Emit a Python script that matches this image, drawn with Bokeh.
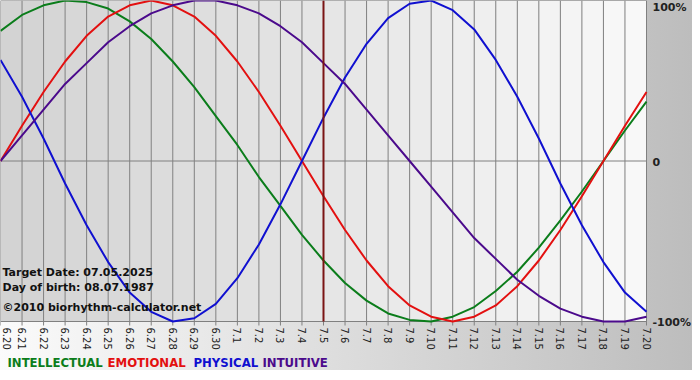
import math
from bokeh.plotting import figure
from bokeh.models import Range1d, Label
from bokeh.core.properties import value
from bokeh.embed import file_html
from bokeh.resources import INLINE

# ---- data ----
days = ["6.20", "6.21", "6.22", "6.23", "6.24", "6.25", "6.26", "6.27", "6.28", "6.29", "6.30",
        "7.1", "7.2", "7.3", "7.4", "7.5", "7.6", "7.7", "7.8", "7.9", "7.10",
        "7.11", "7.12", "7.13", "7.14", "7.15", "7.16", "7.17", "7.18", "7.19", "7.20"]

physical = [0.63, 0.40, 0.14, -0.14, -0.40, -0.63, -0.82, -0.94, -1.00, -0.98, -0.89,
            -0.73, -0.52, -0.27, 0.00, 0.27, 0.52, 0.73, 0.89, 0.98, 1.00,
            0.94, 0.82, 0.63, 0.40, 0.14, -0.14, -0.40, -0.63, -0.82, -0.94]
emotional = [0.00, 0.22, 0.43, 0.62, 0.78, 0.90, 0.97, 1.00, 0.97, 0.90, 0.78,
             0.62, 0.43, 0.22, 0.00, -0.22, -0.43, -0.62, -0.78, -0.90, -0.97,
             -1.00, -0.97, -0.90, -0.78, -0.62, -0.43, -0.22, 0.00, 0.22, 0.43]
intellectual = [0.81, 0.91, 0.97, 1.00, 0.99, 0.95, 0.87, 0.76, 0.62, 0.46, 0.28,
                0.10, -0.10, -0.28, -0.46, -0.62, -0.76, -0.87, -0.95, -0.99, -1.00,
                -0.97, -0.91, -0.81, -0.69, -0.54, -0.37, -0.19, 0.00, 0.19, 0.37]
intuitive = [0.00, 0.16, 0.32, 0.48, 0.61, 0.74, 0.84, 0.92, 0.97, 1.00, 1.00,
             0.97, 0.92, 0.84, 0.74, 0.61, 0.48, 0.32, 0.16, 0.00, -0.16,
             -0.32, -0.48, -0.61, -0.74, -0.84, -0.92, -0.97, -1.00, -1.00, -0.97]

level_ticks = [1, 0, -1]
level_labels = ["100%", "0", "-100%"]
target_day = "7.5"
info_lines = ["Target Date: 07.05.2025", "Day of birth: 08.07.1987", "\u00a92010 biorhythm-calculator.net"]
series_names = ["INTELLECTUAL", "EMOTIONAL", "PHYSICAL", "INTUITIVE"]
series_colors = ["#0b7d1b", "#e31010", "#1010d0", "#4b0a8c"]

xs = list(range(len(days)))

# ---- layout (pixels) ----
W, H = 692, 370          # whole canvas
PW, PH = 646, 321        # chart area (days x -100%..100%)
px_x = PW / xs[-1]       # pixels per day
px_y = PH / 2.0          # pixels per unit
y_bottom = 1 - H / px_y

p = figure(width=W, height=H, x_range=Range1d(0, W / px_x), y_range=Range1d(y_bottom, 1),
           output_backend="svg", toolbar_location=None,
           x_axis_location=None, y_axis_location=None,
           min_border=0, min_border_left=0, min_border_right=0,
           min_border_top=0, min_border_bottom=0)
p.border_fill_color = None
p.background_fill_color = None
p.outline_line_color = None
p.grid.visible = False
p.styles = {"background": "linear-gradient(to right, #fbfbfb, #bdbdbd)"}

# chart-area background gradient (dark left -> light right)
n = len(xs) - 1
band_colors = []
for i in range(n):
    t = i / (n - 1)
    v = int(round(0xd3 + t * (0xf8 - 0xd3)))
    band_colors.append("#%02x%02x%02x" % (v, v, v))
p.quad(left=xs[:-1], right=xs[1:], bottom=-1, top=1, fill_color=band_colors, line_color=None)

# vertical grid lines with small tick marks below
tick = 4 / px_y
p.segment(x0=xs, y0=[-1 - tick] * len(xs), x1=xs, y1=[1] * len(xs),
          line_color="#808080", line_width=1)
# horizontal level lines
p.segment(x0=[xs[0]] * 3, y0=level_ticks, x1=[xs[-1]] * 3, y1=level_ticks,
          line_color="#808080", line_width=1)

# curves
for vals, col in zip([intellectual, emotional, physical, intuitive], series_colors):
    p.line(xs, vals, line_width=2, line_color=col, line_join="round")

# target day marker
tx = xs[days.index(target_day)]
p.segment(x0=[tx], y0=[-1], x1=[tx], y1=[1], line_color="#7a1414", line_width=2)

# day tick labels (rotated, reading downwards); first one nudged in so it is not cut
p.text(x=xs, y=[-1] * len(xs), text=days, angle=-math.pi / 2, y_offset=6,
       x_offset=[6] + [0] * (len(xs) - 1),
       text_align="left", text_baseline="middle",
       text_font=value("DejaVu Sans"), text_font_size="10px", text_color="#222222")

# right-side level labels
p.text(x=[xs[-1]] * 3, y=level_ticks, text=level_labels, x_offset=6, y_offset=[7, 1, 1],
       text_align="left", text_baseline="middle",
       text_font=value("DejaVu Sans"), text_font_style="bold",
       text_font_size="11px", text_color="#222222")

# info texts bottom-left of chart area
for yy, txt in zip([272, 287, 306.5], info_lines):
    p.add_layout(Label(x=2, y=H - yy, x_units="screen", y_units="screen", text=txt,
                       text_font="DejaVu Sans", text_font_style="bold",
                       text_font_size="11px", text_color="#111111",
                       text_baseline="middle", text_align="left"))

# legend (coloured words)
for xx, name, col in zip([7, 107, 193, 262], series_names, series_colors):
    p.add_layout(Label(x=xx, y=H - 362, x_units="screen", y_units="screen", text=name,
                       text_font="'Liberation Sans Narrow', 'DejaVu Sans Condensed', sans-serif",
                       text_font_style="bold", text_font_size="13px", text_color=col,
                       text_baseline="middle", text_align="left"))

open("out.html", "w").write(file_html(p, INLINE))
